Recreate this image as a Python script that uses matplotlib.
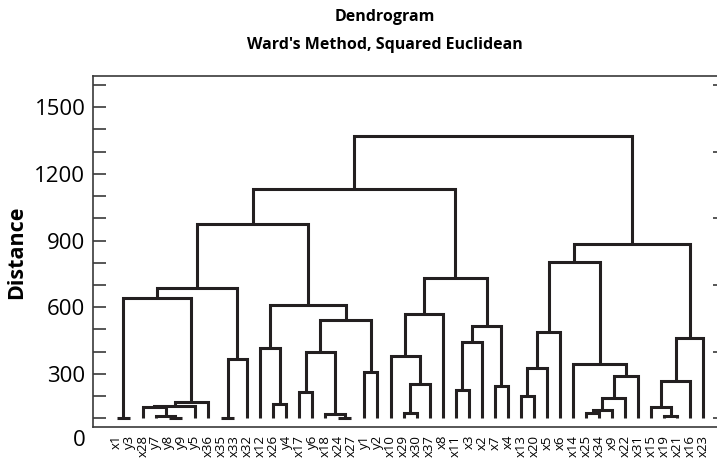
import numpy as np
import matplotlib.pyplot as plt
from matplotlib.transforms import ScaledTranslation

plt.rcParams['font.family'] = ['Open Sans', 'DejaVu Sans']

# leaf labels in display order
labels = ["x1", "y3", "x28", "y7", "y8", "y9", "y5", "x36", "x35", "x33", "x32", "x12",
          "x26", "y4", "x17", "y6", "x18", "x24", "x27", "y1", "y2", "x10", "x29", "x30",
          "x37", "x8", "x11", "x3", "x2", "x7", "x4", "x13", "x20", "x5", "x6", "x14",
          "x25", "x34", "x9", "x22", "x31", "x15", "x19", "x21", "x16", "x23"]

# merges: node ids 0..45 are leaves, merge k gets id 46+k
left_node = [0, 4, 3, 2, 49, 50, 46, 8, 53, 52, 12, 11, 14, 17, 16, 58, 19, 61, 57, 55,
             22, 66, 21, 68, 26, 70, 29, 71, 69, 65, 31, 76, 77, 36, 79, 80, 81, 35, 78,
             42, 41, 86, 87, 84, 75]
right_node = [1, 5, 47, 48, 6, 7, 51, 9, 10, 54, 13, 56, 15, 18, 59, 60, 20, 62, 63, 64,
              23, 24, 67, 25, 27, 28, 30, 72, 73, 74, 32, 33, 34, 37, 38, 39, 40, 82, 83,
              43, 85, 44, 45, 88, 89]
heights = [100, 100, 112, 150, 155, 175, 640, 100, 365, 685, 164, 415, 220, 100, 119, 400,
           310, 542, 610, 974, 125, 253, 380, 569, 227, 442, 245, 515, 730, 1131, 202, 328,
           490, 122, 137, 193, 290, 344, 802, 112, 150, 269, 463, 883, 1372]

n = len(labels)
line_col = "#231f20"

fig = plt.figure(figsize=(7.17, 4.68), dpi=100)
ax = fig.add_axes([0.1297, 0.0882, 0.8703, 0.7500])

xs = list(range(n))
ys = [100] * n
for a, b, h in zip(left_node, right_node, heights):
    ax.plot([xs[a], xs[a], xs[b], xs[b]], [ys[a], h, h, ys[b]],
            color=line_col, lw=2.2, solid_joinstyle="miter", solid_capstyle="butt")
    xs.append((xs[a] + xs[b]) / 2)
    ys.append(h)

ax.set_xlim(-1.82, 46.04)
ax.set_ylim(62, 1642)

ax.set_xticks(range(n))
ax.set_xticklabels(labels, rotation=90, fontsize=9.5, va="top")
ax.tick_params(axis="x", length=0, pad=6)

ax.set_yticks(range(100, 1700, 100))
ax.set_yticklabels(["" if v % 300 else str(v) for v in range(100, 1700, 100)])
ax.tick_params(axis="y", direction="in", length=9, width=1.2, labelsize=16, pad=5.5,
               color="#3a3a3a")
trans = ax.get_yaxis_transform() + ScaledTranslation(-5.5 / 72, 0, fig.dpi_scale_trans)
ax.text(0, 0, "0", transform=trans, ha="right", va="center", fontsize=16)

sec = ax.secondary_yaxis("right")
sec.set_yticks(range(100, 1700, 300))
sec.set_yticklabels([])
sec.tick_params(direction="in", length=3, width=1.2, color="#3a3a3a")
sec.spines["right"].set_visible(False)

ax.spines["right"].set_visible(False)
for s in ["left", "top", "bottom"]:
    ax.spines[s].set_color("#3a3a3a")
    ax.spines[s].set_linewidth(1.2)

ax.set_ylabel("Distance", fontsize=15.5, fontweight="bold")
ax.yaxis.set_label_coords(-0.105, 0.497)

fig.text(0.537, 0.963, "Dendrogram", ha="center", va="center",
         fontsize=11.5, fontweight="bold")
fig.text(0.537, 0.904, "Ward's Method, Squared Euclidean", ha="center", va="center",
         fontsize=11.5, fontweight="bold")

fig.savefig("out.png", dpi=100)
